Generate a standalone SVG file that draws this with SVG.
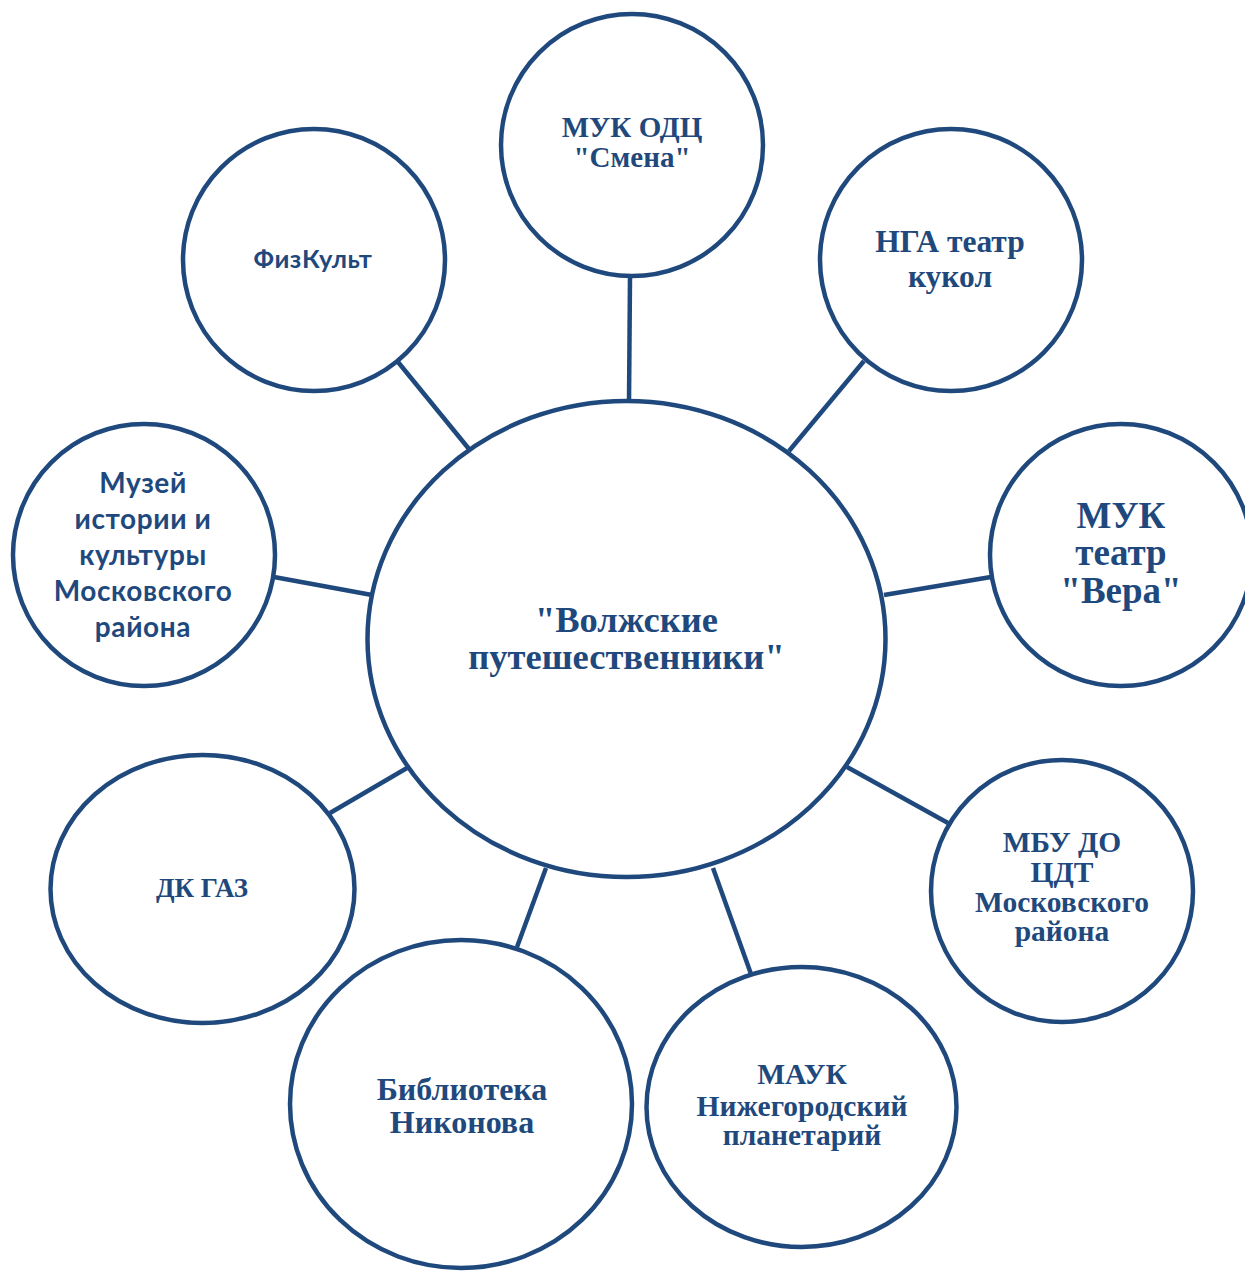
<svg xmlns="http://www.w3.org/2000/svg" width="1245" height="1271" viewBox="0 0 1245 1271">
<style>
.n{fill:#fff;stroke:#1f497d;stroke-width:4.5}
.c line{stroke:#1f497d;stroke-width:4.5}
text{fill:#1f497d;font-weight:bold;text-anchor:middle}
.s{font-family:"Liberation Serif","Times New Roman",serif}
.a{font-family:Lato,"Open Sans",sans-serif;letter-spacing:0.6px}
</style>
<rect width="1245" height="1271" fill="#fff"/>
<g class="c">
<line x1="630" y1="277" x2="629" y2="402"/>
<line x1="398" y1="362" x2="469" y2="449"/>
<line x1="864" y1="361" x2="789" y2="451"/>
<line x1="274" y1="577" x2="372" y2="595"/>
<line x1="884" y1="595" x2="991" y2="577"/>
<line x1="330" y1="813" x2="407" y2="768"/>
<line x1="847" y1="767" x2="948" y2="823"/>
<line x1="546" y1="868" x2="517" y2="947"/>
<line x1="713" y1="868" x2="751" y2="974"/>
</g>
<g id="center"><ellipse class="n" cx="626.5" cy="639" rx="259" ry="238"/>
<text class="s" x="626.5" y="632" font-size="36.5">"Волжские</text>
<text class="s" x="626.5" y="669" font-size="36.5">путешественники"</text></g>
<g id="smena"><circle class="n" cx="632" cy="145" r="131"/>
<text class="s" x="632" y="137" font-size="29">МУК ОДЦ</text>
<text class="s" x="632" y="167" font-size="29">"Смена"</text></g>
<g id="fizkult"><ellipse class="n" cx="314" cy="260" rx="131" ry="131"/>
<text class="a" x="313" y="268" font-size="25.5">ФизКульт</text></g>
<g id="nga"><ellipse class="n" cx="951" cy="260" rx="131" ry="131"/>
<text class="s" x="950" y="252" font-size="31.5">НГА театр</text>
<text class="s" x="950" y="287" font-size="31.5">кукол</text></g>
<g id="museum"><circle class="n" cx="144" cy="555" r="131"/>
<text class="a" font-size="28"><tspan x="143" y="493">Музей</tspan><tspan x="143" y="529">истории и</tspan><tspan x="143" y="565">культуры</tspan><tspan x="143" y="601">Московского</tspan><tspan x="143" y="637">района</tspan></text></g>
<g id="vera"><circle class="n" cx="1121" cy="555" r="131"/>
<text class="s" font-size="37"><tspan x="1121" y="528">МУК</tspan><tspan x="1121" y="565">театр</tspan><tspan x="1121" y="603">"Вера"</tspan></text></g>
<g id="dkgaz"><ellipse class="n" cx="202.5" cy="889" rx="152" ry="134"/>
<text class="s" x="202" y="897" font-size="27">ДК ГАЗ</text></g>
<g id="mbu"><circle class="n" cx="1062" cy="891" r="131"/>
<text class="s" font-size="29.5"><tspan x="1062" y="852">МБУ ДО</tspan><tspan x="1062" y="882">ЦДТ</tspan><tspan x="1062" y="912">Московского</tspan><tspan x="1062" y="941">района</tspan></text></g>
<g id="biblio"><ellipse class="n" cx="461" cy="1104" rx="171" ry="164"/>
<text class="s" font-size="32"><tspan x="462" y="1100">Библиотека</tspan><tspan x="462" y="1133">Никонова</tspan></text></g>
<g id="mauk"><ellipse class="n" cx="801.5" cy="1107" rx="155" ry="140"/>
<text class="s" font-size="29.5"><tspan x="802" y="1084">МАУК</tspan><tspan x="802" y="1116">Нижегородский</tspan><tspan x="802" y="1145">планетарий</tspan></text></g>
</svg>
